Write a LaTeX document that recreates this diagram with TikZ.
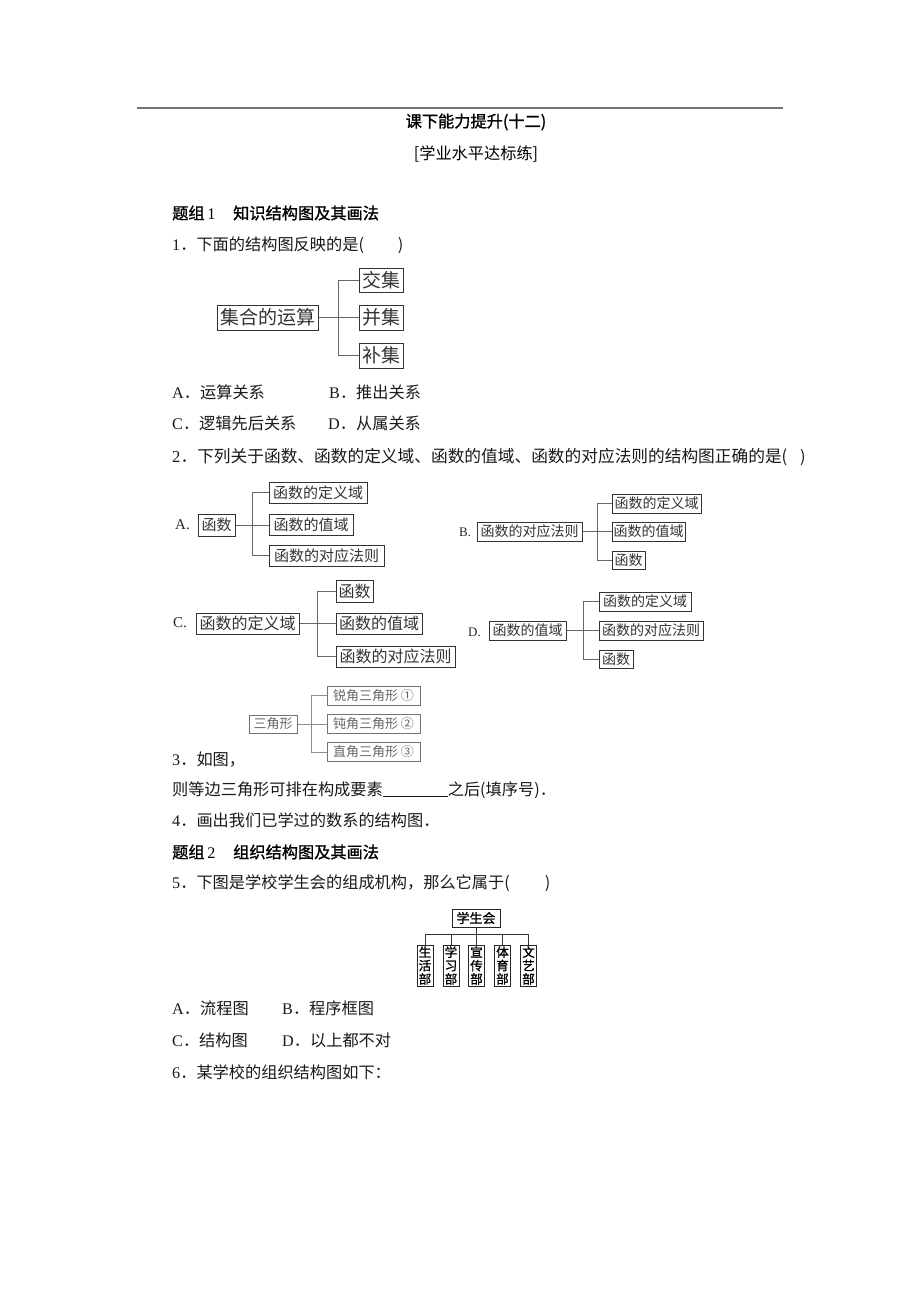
\documentclass[tikz,border=0pt]{standalone}
\usepackage{fontspec}
\setmainfont{Noto Sans CJK SC}
\newfontfamily\lat{Liberation Serif}
\newfontfamily\hb{Noto Sans CJK SC}[FakeBold=1.2]
\begin{document}
\begin{tikzpicture}[x=1pt,y=-1pt,
  txt/.style={anchor=west, inner sep=0pt, font=\fontsize{16.2}{18}\selectfont, text=black!90},
  hd/.style={anchor=west, inner sep=0pt, font=\hb\fontsize{16.2}{18}\selectfont, text=black},
  lab/.style={anchor=west, inner sep=0pt, font=\lat\fontsize{15}{15}\selectfont, text=black!85},
  labs/.style={anchor=west, inner sep=0pt, font=\lat\fontsize{13}{13}\selectfont, text=black!85},
  bx/.style={draw=black!80, line width=1pt, inner sep=0pt, text=black!80},
  gbx/.style={draw=black!55, line width=1pt, inner sep=0pt, text=black!60},
  ln/.style={draw=black!60, line width=0.8pt},
  fA/.style={font=\fontsize{19}{19}\selectfont},
  f15/.style={font=\fontsize{15}{15}\selectfont},
  f16/.style={font=\fontsize{16}{16}\selectfont},
  f14/.style={font=\fontsize{14}{14}\selectfont},
  f13/.style={font=\fontsize{13}{13}\selectfont},
  vb/.style={draw=black!85, line width=0.9pt, inner sep=0pt, align=center, text=black,
     font=\hb\fontsize{12.5}{13.4}\selectfont, minimum width=16pt, minimum height=41pt}
]
\useasboundingbox (0,0) rectangle (920,1302);
\fill[white] (0,0) rectangle (920,1302);

% top rule
\draw[black!55, line width=1.5pt] (137,108) -- (783,108);

% titles
\node[hd, anchor=center] (title) at (476,122) {课下能力提升(十二)};
\node[txt, anchor=center, text=black] (sub) at (476,154) {[学业水平达标练]};

\node[hd] (h1) at (172,213) {题组\,{\lat 1}};
\node[hd] (h1b) at (233,213) {知识结构图及其画法};
\node[txt] (q1) at (172,245) {{\lat 1}．下面的结构图反映的是(\hspace{34pt})};

% diagram 1
\node[bx, fA, minimum width=101pt, minimum height=25pt] (m1) at (267.5,317.5) {集合的运算};
\node[bx, fA, minimum width=44pt, minimum height=24pt] (a1) at (381,280) {交集};
\node[bx, fA, minimum width=44pt, minimum height=25pt] (b1) at (381,317.5) {并集};
\node[bx, fA, minimum width=44pt, minimum height=25pt] (c1) at (381,355.5) {补集};
\coordinate (t1) at (338,317.5);
\draw[ln] (m1.east) -- (b1.west);
\draw[ln] (t1 |- a1.west) -- (t1 |- c1.west);
\draw[ln] (t1 |- a1.west) -- (a1.west);
\draw[ln] (t1 |- c1.west) -- (c1.west);

\node[txt] (oA) at (172,392) {{\lat A}．运算关系};
\node[txt] (oB) at (329,392) {{\lat B}．推出关系};
\node[txt] (oC) at (172,423) {{\lat C}．逻辑先后关系};
\node[txt] (oD) at (328,423) {{\lat D}．从属关系};
\node[txt, font=\fontsize{16.7}{18}\selectfont] (q2) at (172,457) {{\lat 2}．下列关于函数、函数的定义域、函数的值域、函数的对应法则的结构图正确的是(};
\node[txt] (q2p) at (800,457) {)};

% diagram 2A
\node[lab] (lA) at (175,525) {A.};
\node[bx, f15, minimum width=37pt, minimum height=22pt] (Am) at (216.5,525) {函数};
\node[bx, f15, minimum width=98pt, minimum height=21pt] (Aa) at (318,492.5) {函数的定义域};
\node[bx, f15, minimum width=84pt, minimum height=21pt] (Ab) at (311,525) {函数的值域};
\node[bx, f15, minimum width=115pt, minimum height=21pt] (Ac) at (326.5,555.5) {函数的对应法则};
\coordinate (tA) at (252,525);
\draw[ln] (Am.east) -- (Ab.west);
\draw[ln] (tA |- Aa.west) -- (tA |- Ac.west);
\draw[ln] (tA |- Aa.west) -- (Aa.west);
\draw[ln] (tA |- Ac.west) -- (Ac.west);

% diagram 2B
\node[labs] (lB) at (459,532) {B.};
\node[bx, f14, minimum width=105pt, minimum height=19pt] (Bm) at (529.5,531.5) {函数的对应法则};
\node[bx, f14, minimum width=89pt, minimum height=19pt] (Ba) at (656.5,503.5) {函数的定义域};
\node[bx, f14, minimum width=73pt, minimum height=19pt] (Bb) at (648.5,531.5) {函数的值域};
\node[bx, f14, minimum width=33pt, minimum height=18pt] (Bc) at (628.5,560) {函数};
\coordinate (tB) at (597,531.5);
\draw[ln] (Bm.east) -- (Bb.west);
\draw[ln] (tB |- Ba.west) -- (tB |- Bc.west);
\draw[ln] (tB |- Ba.west) -- (Ba.west);
\draw[ln] (tB |- Bc.west) -- (Bc.west);

% diagram 2C
\node[lab] (lC) at (173,623) {C.};
\node[bx, f16, minimum width=103pt, minimum height=21pt] (Cm) at (247.5,623.5) {函数的定义域};
\node[bx, f16, minimum width=37pt, minimum height=22pt] (Ca) at (354.5,591) {函数};
\node[bx, f16, minimum width=86pt, minimum height=21pt] (Cb) at (379,623.5) {函数的值域};
\node[bx, f16, minimum width=119pt, minimum height=21pt] (Cc) at (395.5,656.5) {函数的对应法则};
\coordinate (tC) at (317,623.5);
\draw[ln] (Cm.east) -- (Cb.west);
\draw[ln] (tC |- Ca.west) -- (tC |- Cc.west);
\draw[ln] (tC |- Ca.west) -- (Ca.west);
\draw[ln] (tC |- Cc.west) -- (Cc.west);

% diagram 2D
\node[labs] (lD) at (468,632) {D.};
\node[bx, f14, minimum width=77pt, minimum height=19pt] (Dm) at (527.5,630.5) {函数的值域};
\node[bx, f14, minimum width=92pt, minimum height=19pt] (Da) at (645,601.5) {函数的定义域};
\node[bx, f14, minimum width=104pt, minimum height=19pt] (Db) at (651,630.5) {函数的对应法则};
\node[bx, f14, minimum width=34pt, minimum height=18pt] (Dc) at (616,659.5) {函数};
\coordinate (tD) at (583,630.5);
\draw[ln] (Dm.east) -- (Db.west);
\draw[ln] (tD |- Da.west) -- (tD |- Dc.west);
\draw[ln] (tD |- Da.west) -- (Da.west);
\draw[ln] (tD |- Dc.west) -- (Dc.west);

% diagram 3
\node[gbx, f13, minimum width=48pt, minimum height=18pt] (Tm) at (273,724) {三角形};
\node[gbx, f13, minimum width=93pt, minimum height=19pt] (Ta) at (373.5,695.5) {锐角三角形 ①};
\node[gbx, f13, minimum width=93pt, minimum height=19pt] (Tb) at (373.5,724) {钝角三角形 ②};
\node[gbx, f13, minimum width=93pt, minimum height=19pt] (Tc) at (373.5,752) {直角三角形 ③};
\coordinate (tT) at (311,724);
\draw[ln, draw=black!45] (Tm.east) -- (Tb.west);
\draw[ln, draw=black!45] (tT |- Ta.west) -- (tT |- Tc.west);
\draw[ln, draw=black!45] (tT |- Ta.west) -- (Ta.west);
\draw[ln, draw=black!45] (tT |- Tc.west) -- (Tc.west);

\node[txt] (q3) at (172,760) {{\lat 3}．如图，};
\node[txt] (q3b) at (172,790) {则等边三角形可排在构成要素\underline{\hspace{65pt}}之后(填序号)．};
\node[txt] (q4) at (172,820) {{\lat 4}．画出我们已学过的数系的结构图．};
\node[hd] (h2) at (172,852) {题组\,{\lat 2}};
\node[hd] (h2b) at (233,852) {组织结构图及其画法};
\node[txt] (q5) at (172,883) {{\lat 5}．下图是学校学生会的组成机构，那么它属于(\hspace{35pt})};

% diagram 5
\node[draw=black!85, line width=0.9pt, inner sep=0pt, font=\hb\fontsize{13}{13}\selectfont,
      minimum width=48pt, minimum height=18pt] (S) at (476,918) {学生会};
\node[vb] (S1) at (425,965.5) {生\\活\\部};
\node[vb] (S2) at (451,965.5) {学\\习\\部};
\node[vb] (S3) at (476.5,965.5) {宣\\传\\部};
\node[vb] (S4) at (502.5,965.5) {体\\育\\部};
\node[vb] (S5) at (528.5,965.5) {文\\艺\\部};
\coordinate (bus) at (476,934);
\draw[black!80, line width=0.8pt] (S.south) -- (bus);
\draw[black!80, line width=0.8pt] (S1.north |- bus) -- (S5.north |- bus);
\foreach \n in {S1,S2,S3,S4,S5}{
  \draw[black!80, line width=0.8pt] (\n.north |- bus) -- (\n.north);
}

\node[txt] (oA2) at (172,1008) {{\lat A}．流程图};
\node[txt] (oB2) at (282,1008) {{\lat B}．程序框图};
\node[txt] (oC2) at (172,1040) {{\lat C}．结构图};
\node[txt] (oD2) at (282,1040) {{\lat D}．以上都不对};
\node[txt] (q6) at (172,1072) {{\lat 6}．某学校的组织结构图如下：};
\end{tikzpicture}
\end{document}
